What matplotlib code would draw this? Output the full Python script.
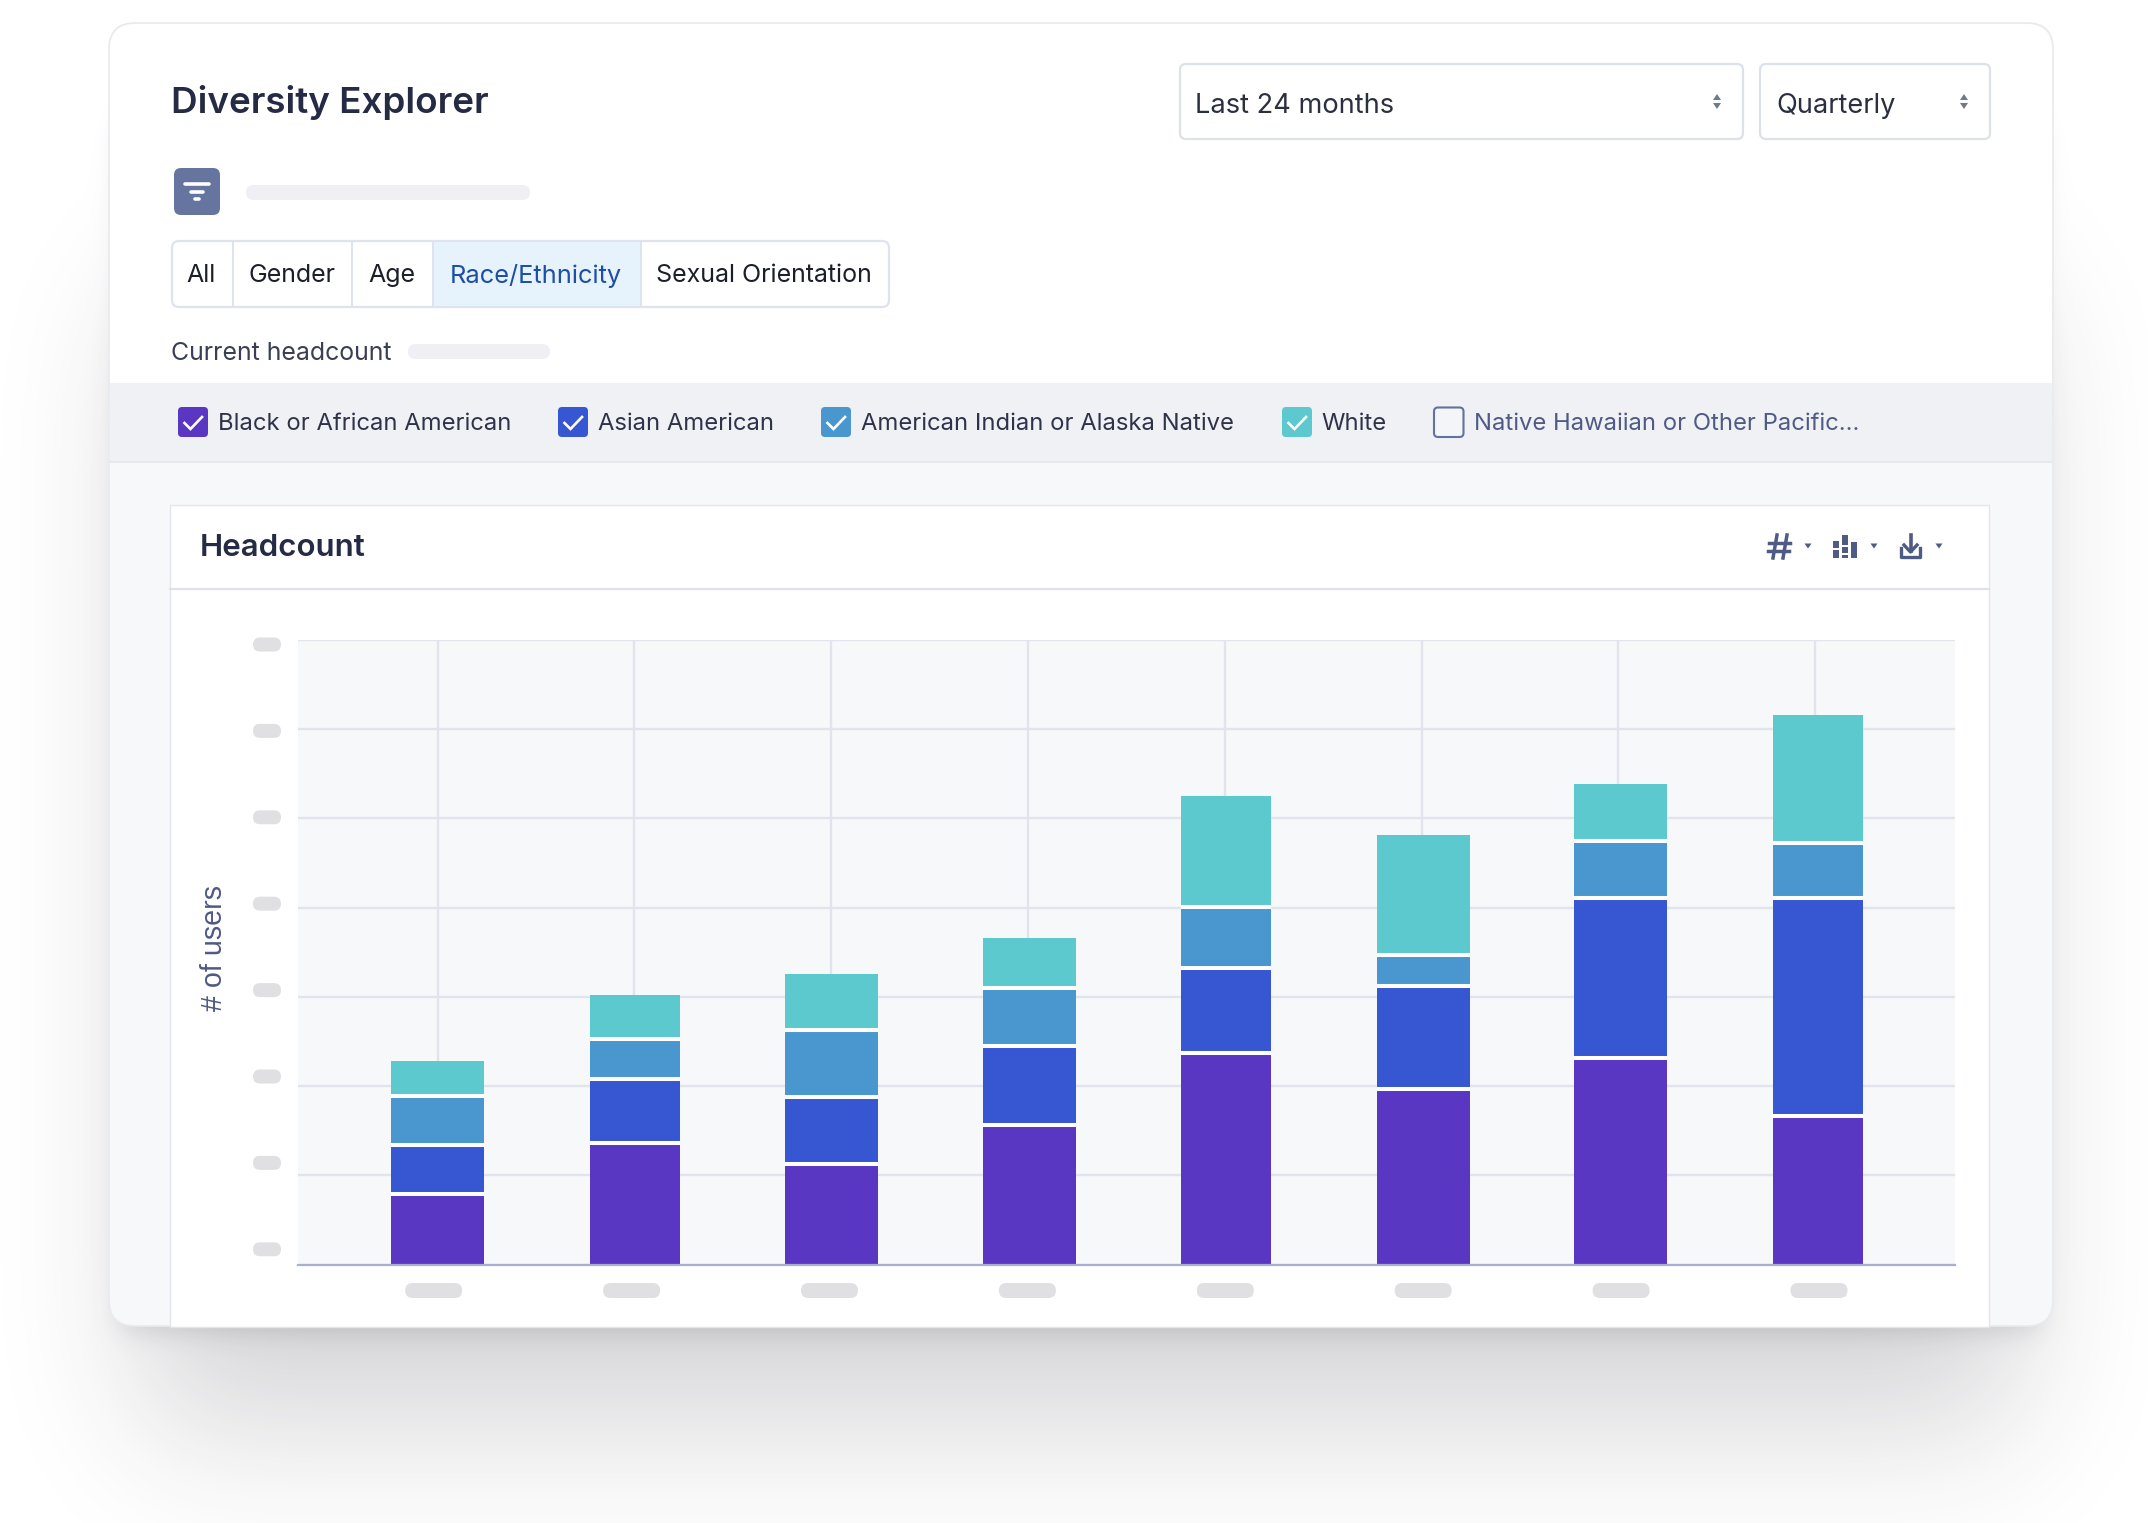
import math
import numpy as np
import matplotlib
matplotlib.use("Agg")
import matplotlib.pyplot as plt
from matplotlib.patches import FancyBboxPatch, Rectangle, Polygon

plt.rcParams["font.family"] = ["Inter", "DejaVu Sans"]

# chart values (one grid step = 100 users)
bar_idx = [0, 1, 2, 3, 4, 5, 6, 7]
black_african = [78.7, 136, 112.4, 156.7, 237.3, 197.2, 231, 167]
asian = [55, 72, 75, 88.4, 95.5, 115.4, 179.4, 243.5]
american_indian = [55, 44.4, 75.3, 65, 68.3, 34.6, 64.8, 61.5]
white = [39.3, 50, 62.9, 56.4, 123.6, 134, 63.1, 143.8]
y_ticks = [0, 100, 200, 300, 400, 500, 600, 700]

legend_labels = ["Black or African American", "Asian American",
                 "American Indian or Alaska Native", "White",
                 "Native Hawaiian or Other Pacific..."]
tab_labels = ["All", "Gender", "Age", "Race/Ethnicity", "Sexual Orientation"]

PURPLE = "#5a37c3"
BLUE = "#3757d2"
LTBLUE = "#4a97d0"
TEAL = "#5cc9ce"
DARK = "#252a45"
SLATE = "#4f5a85"
PILL = "#e0e0e3"
LINE = "#e1e4ec"

W, H = 2148, 1523
fig = plt.figure(figsize=(W / 100, H / 100), dpi=100, facecolor="white")

# everything around the chart is drawn in pixel coordinates
ui = fig.add_axes([0, 0, 1, 1])
ui.set_xlim(0, W)
ui.set_ylim(H, 0)
ui.axis("off")


def box(x0, y0, x1, y1, r=0, fc="white", ec="none", lw=0, z=3):
    if r > 0:
        p = FancyBboxPatch((x0 + r, y0 + r), x1 - x0 - 2 * r, y1 - y0 - 2 * r,
                           boxstyle="round,pad=%f,rounding_size=%f" % (r, r),
                           fc=fc, ec=ec, lw=lw, zorder=z)
    else:
        p = Rectangle((x0, y0), x1 - x0, y1 - y0, fc=fc, ec=ec, lw=lw, zorder=z)
    ui.add_patch(p)


def label(x, y, s, size=19.6, color=DARK, ha="left", weight="normal", z=5):
    return ui.text(x, y, s, fontsize=size, color=color, ha=ha, va="center_baseline",
                   fontweight=weight, zorder=z)


def tri(x, y, w, h, up=False, color=SLATE):
    tip = y - h / 2 if up else y + h / 2
    base = y + h / 2 if up else y - h / 2
    ui.add_patch(Polygon([(x - w / 2, base), (x + w / 2, base), (x, tip)], fc=color, ec="none", zorder=5))


# soft shadow under the card
verf = np.vectorize(math.erf)


def soft(x0, x1, y0, y1, sx, sy):
    xs = np.arange(W) + 0.5
    ys = np.arange(H) + 0.5
    fx = 0.5 * (verf((xs - x0) / (sx * 2 ** 0.5)) - verf((xs - x1) / (sx * 2 ** 0.5)))
    fy = 0.5 * (verf((ys - y0) / (sy * 2 ** 0.5)) - verf((ys - y1) / (sy * 2 ** 0.5)))
    return np.outer(fy, fx)


alpha = 0.2 * soft(140, 2020, 300, 1420, 68, 80) + 0.13 * soft(120, 2040, 120, 1332, 13, 13)
shadow = np.zeros((H, W, 4))
shadow[..., :3] = np.array([0.15, 0.15, 0.2])
shadow[..., 3] = np.clip(alpha, 0, 1)
ui.imshow(shadow, extent=(0, W, H, 0), aspect="auto", zorder=1, interpolation="nearest")
ui.set_xlim(0, W)
ui.set_ylim(H, 0)

# card
box(109, 23, 2053, 1326, r=26, fc="#f7f8fa", ec="#e9eaef", lw=1.2, z=2)
box(110, 24, 2052, 420, r=26, fc="white", z=2.1)
box(110, 383, 2052, 462, fc="#f0f1f5", z=2.2)
ui.plot([110, 2052], [462, 462], color="#e7e8ed", lw=1.4, zorder=2.3)

label(171, 99, "Diversity Explorer", size=26.5, weight="semibold")

# dropdowns
box(1180, 64, 1743, 139, r=6, fc="white", ec="#dde1e9", lw=1.6)
box(1760, 64, 1990, 139, r=6, fc="white", ec="#dde1e9", lw=1.6)
label(1195, 103, "Last 24 months", color="#2b3040")
label(1776, 103, "Quarterly", color="#2b3040")
for ax_x in (1717, 1964):
    tri(ax_x, 97, 8, 6, up=True, color="#6f7a90")
    tri(ax_x, 106, 8, 6, color="#6f7a90")

# filter row
box(174, 168, 220, 215, r=7, fc="#6674a0")
ui.plot([185, 209], [184, 184], color="white", lw=2.6, zorder=5, solid_capstyle="round")
ui.plot([191, 203], [192, 192], color="white", lw=2.6, zorder=5, solid_capstyle="round")
ui.plot([195, 199], [199, 199], color="white", lw=2.6, zorder=5, solid_capstyle="round")
box(246, 185, 530, 200, r=7.5, fc="#f0f0f4")

# tabs
tab_edges = [172, 233, 352, 433, 641, 889]
tab_text_x = [186, 249, 368, 450, 656]
box(172, 241, 889, 307, r=7, fc="white", ec="#dfe3ee", lw=1.6)
box(433, 242, 641, 306, fc="#e6f2fc", z=3.1)
for xe in tab_edges[1:-1]:
    ui.plot([xe, xe], [241, 307], color="#dfe3ee", lw=1.4, zorder=3.2)
for i, t in enumerate(tab_labels):
    label(tab_text_x[i], 273, t, size=18.3 if i == 3 else 18, color="#1d4fa6" if i == 3 else "#1c1f2a")

label(171, 351, "Current headcount", size=17.9, color="#3a3f55")
box(408, 344, 550, 359, r=7.5, fc="#f0f0f4")

# legend row
check_x = [178, 558, 821, 1282, 1434]
check_col = [PURPLE, BLUE, LTBLUE, TEAL]
text_x = [218, 598, 861, 1321, 1474]
for i, t in enumerate(legend_labels):
    if i < 4:
        box(check_x[i], 407, check_x[i] + 30, 437, r=4, fc=check_col[i], z=3)
        ui.plot(np.array([6.5, 12.5, 24]) + check_x[i], [423, 429, 417], color="white", lw=1.9,
                zorder=4, solid_joinstyle="miter")
    else:
        box(check_x[i], 407.5, check_x[i] + 29.5, 437, r=4, fc="#f4f5f9", ec="#6272a0", lw=1.5, z=3)
    label(text_x[i], 421, t, size=17.15, color=SLATE if i == 4 else "#2e3349")

# chart panel
box(170, 505, 1989, 1327, fc="white", ec="#e2e5ec", lw=1.0, z=3)
ui.plot([170, 1989], [589, 589], color="#dfe2ea", lw=1.6, zorder=3.1)
label(200, 545, "Headcount", size=22.5, weight="semibold")

# panel icons
ui.plot([1777, 1773], [535, 558], color=SLATE, lw=2.5, zorder=5)
ui.plot([1787, 1783], [535, 558], color=SLATE, lw=2.5, zorder=5)
ui.plot([1769, 1790], [543, 543], color=SLATE, lw=2.5, zorder=5)
ui.plot([1768, 1789], [551, 551], color=SLATE, lw=2.5, zorder=5)
tri(1808, 546, 7, 5)
for x0, x1, y0, y1 in [(1833, 1839, 541, 548), (1833, 1839, 550, 558), (1842, 1848, 535, 545),
                       (1842, 1848, 547, 553), (1842, 1848, 555, 558), (1851, 1857, 542, 558)]:
    box(x0, y0, x1, y1, fc=SLATE, z=5)
tri(1874, 546, 7, 5)
ui.plot([1901, 1901, 1920, 1920], [548, 557, 557, 548], color=SLATE, lw=2.4, zorder=5)
ui.plot([1910.5, 1910.5], [535, 551], color=SLATE, lw=2.6, zorder=5)
ui.plot([1904, 1910.5, 1917], [545, 552, 545], color=SLATE, lw=2.4, zorder=5)
tri(1939, 546, 7, 5)

# placeholder pills where the tick labels were blanked out
for i in range(8):
    yc = 644.5 + 86.4 * i
    box(253, yc - 7, 281, yc + 7, r=7, fc=PILL, z=4)
    xc = 433.7 + 197.9 * i
    box(xc - 28.5, 1283, xc + 28.5, 1298, r=7.5, fc=PILL, z=4)

# the actual chart
ax = fig.add_axes([298 / W, (H - 1264.5) / H, (1955 - 298) / W, (1264.5 - 640) / H], facecolor="#f7f8fa")
bar_w = [0.472, 0.457, 0.472, 0.472, 0.457, 0.472, 0.472, 0.457]
bottom = np.zeros(8)
series = [(black_african, PURPLE), (asian, BLUE), (american_indian, LTBLUE), (white, TEAL)]
tops = []
for vals, col in series:
    ax.bar(bar_idx, vals, bottom=bottom, width=bar_w, color=col, edgecolor="none", zorder=3)
    bottom = bottom + np.array(vals)
    tops.append(bottom.copy())
# white gap between the stacked segments
for top in tops[:-1]:
    for i in bar_idx:
        ax.plot([i - bar_w[i] / 2, i + bar_w[i] / 2], [top[i], top[i]], color="white", lw=2.9,
                solid_capstyle="butt", zorder=4)

ax.set_xlim(-0.7074, 7.695)
ax.set_ylim(0, 700)
# grid runs on a slightly tighter step than the bars in the original
ax.set_xticks(np.array(bar_idx) * 0.998)
ax.set_yticks(y_ticks)
ax.tick_params(length=0, labelbottom=False, labelleft=False)
ax.grid(True, color=LINE, lw=1.7, zorder=1)
ax.set_axisbelow(True)
for side in ("top", "left", "right"):
    ax.spines[side].set_visible(False)
ax.spines["bottom"].set_color("#a9b0cf")
ax.spines["bottom"].set_linewidth(1.6)
ax.spines["bottom"].set_zorder(5)

ui.text(214, 948, "# of users", rotation=90, fontsize=20.6, color=SLATE, ha="center", va="center",
        family=["Liberation Sans", "DejaVu Sans"], zorder=5)

fig.savefig("out.png", dpi=100)
